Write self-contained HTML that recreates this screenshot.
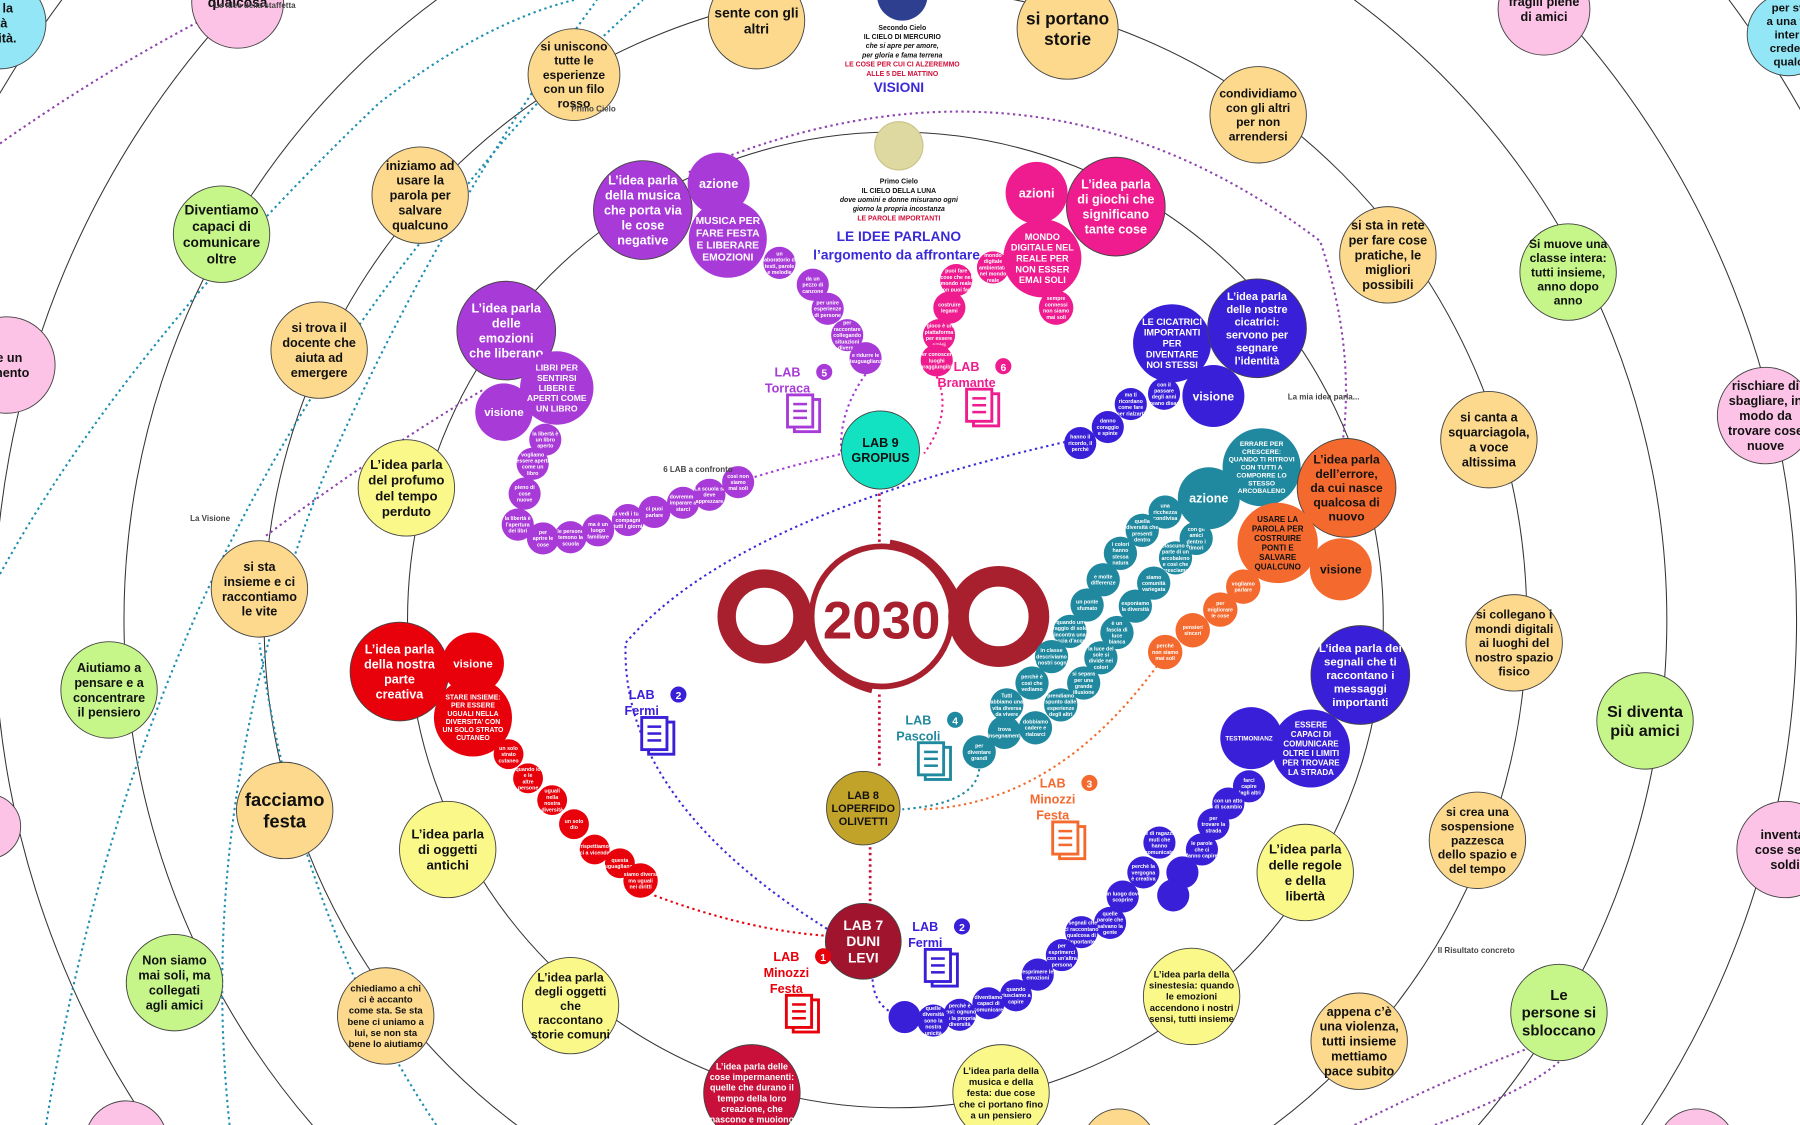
<!DOCTYPE html>
<html><head><meta charset="utf-8">
<style>
html,body{margin:0;padding:0;background:#fff;width:1800px;height:1125px;overflow:hidden}
svg{display:block;overflow:hidden}
text{font-family:"Liberation Sans",sans-serif;font-weight:bold;text-anchor:middle}
</style></head>
<body>
<svg id="s" width="1800" height="1125" viewBox="0 0 1568 980" xmlns="http://www.w3.org/2000/svg">
<g fill="none" stroke="#333" stroke-width="0.9">
<circle cx="780" cy="540" r="425"/>
<circle cx="780" cy="540" r="550"/>
<circle cx="780" cy="540" r="672"/>
<circle cx="780" cy="540" r="785"/>
<circle cx="780" cy="540" r="905"/>
</g>
<g fill="none" stroke-width="1.8" stroke-dasharray="2 3">
<path d="M0 125 Q150 20 300 -40" stroke="#8e44ad"/>
<path d="M0 500 Q110 300 330 90 Q420 20 500 0" stroke="#1e8fb0"/>
<path d="M40 980 Q120 500 400 170 Q470 80 560 0" stroke="#1e8fb0"/>
<path d="M200 980 Q170 700 280 420 Q380 190 520 0" stroke="#1e8fb0"/>
<path d="M380 980 Q260 800 226 560" stroke="#1e8fb0"/>
<path d="M600 150 Q900 20 1150 210 Q1180 300 1170 382" stroke="#8e44ad"/>
<path d="M420 340 Q320 400 230 468" stroke="#8e44ad"/>
<path d="M1180 980 Q1280 930 1355 905" stroke="#8e44ad"/>
<path d="M1250 980 Q1330 950 1358 925" stroke="#8e44ad"/>
<path d="M643 420 Q690 405 735 395" stroke="#a33bd6"/>
<path d="M754 326 Q730 360 733 395" stroke="#a33bd6"/>
<path d="M816 328 Q830 360 805 395" stroke="#ee1c8e"/>
<path d="M928 385 Q640 450 545 560 Q540 700 730 815" stroke="#3a2ad8"/>
<path d="M1008 580 Q920 700 805 705" stroke="#f26a2c"/>
<path d="M853 670 Q850 700 786 705" stroke="#20899f"/>
<path d="M570 780 Q650 810 718 815" stroke="#e8000b"/>
<path d="M788 886 Q760 880 760 850" stroke="#3a2ad8"/>
<path d="M766 430 L766 480 M766 605 L766 670 M758 738 L758 785" stroke="#c8103a" stroke-width="2.4"/>
</g>
<g fill="none" stroke="#a8202e">
<circle cx="666" cy="537" r="33" stroke-width="16"/>
<circle cx="870" cy="537" r="35" stroke-width="18"/>
<circle cx="768" cy="537" r="61" stroke-width="5"/>
<path d="M700 545 Q720 590 760 600 M836 528 Q815 480 775 474" stroke-width="8"/>
</g>
<text x="768" y="556" font-size="46" fill="#a8202e">2030</text>
<circle cx="786" cy="-4" r="22" fill="#2f3f8f"/>
<circle cx="783" cy="127" r="21" fill="#ddd9a0" stroke="#c8c48a"/>
<g id="g"></g>
</svg>
<script>
var g=document.getElementById('g'),NS='http://www.w3.org/2000/svg';
function el(t,a,p){var e=document.createElementNS(NS,t);for(var k in a)e.setAttribute(k,a[k]);(p||g).appendChild(e);return e}
function txt(x,y,s,fs,c){var L=s.split('\n'),lh=fs*1.18,y0=y-(L.length-1)*lh/2+fs*0.35;
 var t=el('text',{x:x,y:y0,'font-size':fs,fill:c});
 L.forEach(function(l,i){var ts=el('tspan',{x:x,y:y0+i*lh},t);ts.textContent=l});}
function N(x,y,r,f,s,fs,c,st){el('circle',{cx:x,cy:y,r:r,fill:f,stroke:st===0?'none':'#444','stroke-width':0.8});if(s)txt(x,y,s,fs,c||'#111')}
var O='#fcd98c',G='#c6f68a',P='#fcc3e6',Y='#fbf88a',C='#93e6f6';
N(0,20,40,C,'re la\nità\nanità.',11);
N(207,2,40,P,'qualcosa',12);
N(659,18,42,O,'sente con gli\naltri',12);
N(930,25,44,O,'si portano\nstorie',15);
N(500,65,40,O,'si uniscono\ntutte le\nesperienze\ncon un filo\nrosso',10.5);
N(1096,100,42,O,'condividiamo\ncon gli altri\nper non\narrendersi',10.5);
N(1345,8,40,P,'fragili piene\ndi amici',11);
N(1558,30,36,C,'per sv\na una fo\ninteri\ncreden\nqualc',10);
N(366,170,42,O,'iniziamo ad\nusare la\nparola per\nsalvare\nqualcuno',11);
N(193,204,42,G,'Diventiamo\ncapaci di\ncomunicare\noltre',12);
N(1209,222,42,O,'si sta in rete\nper fare cose\npratiche, le\nmigliori\npossibili',11);
N(1366,237,42,G,'Si muove una\nclasse intera:\ntutti insieme,\nanno dopo\nanno',10.5);
N(6,318,42,P,'re un\namento',11);
N(278,305,42,O,'si trova il\ndocente che\naiuta ad\nemergere',11);
N(1538,362,42,P,'rischiare di\nsbagliare, in\nmodo da\ntrovare cose\nnuove',11);
N(1297,383,42,O,'si canta a\nsquarciagola,\na voce\naltissima',11);
N(354,425,42,Y,'L\u2019idea parla\ndel profumo\ndel tempo\nperduto',11.5);
N(226,513,42,O,'si sta\ninsieme e ci\nraccontiamo\nle vite',11);
N(1319,560,42,O,'si collegano i\nmondi digitali\nai luoghi del\nnostro spazio\nfisico',10.5);
N(95,601,42,G,'Aiutiamo a\npensare e a\nconcentrare\nil pensiero',11);
N(1433,628,42,G,'Si diventa\npiù amici',14);
N(-10,720,28,P,'',10);
N(248,706,42,O,'facciamo\nfesta',16);
N(390,740,42,Y,'L\u2019idea parla\ndi oggetti\nantichi',11.5);
N(1137,760,42,Y,'L\u2019idea parla\ndelle regole\ne della\nlibertà',11.5);
N(1287,732,42,O,'si crea una\nsospensione\npazzesca\ndello spazio e\ndel tempo',10.5);
N(1555,740,42,P,'inventar\ncose senz\nsoldi',11);
N(152,856,42,G,'Non siamo\nmai soli, ma\ncollegati\nagli amici',11);
N(336,885,42,O,'chiediamo a chi\nci è accanto\ncome sta. Se sta\nbene ci uniamo a\nlui, se non sta\nbene lo aiutiamo',8.2);
N(497,876,42,Y,'L\u2019idea parla\ndegli oggetti\nche\nraccontano\nstorie comuni',10.5);
N(1038,868,42,Y,'L\u2019idea parla della\nsinestesia: quando\nle emozioni\naccendono i nostri\nsensi, tutti insieme',8.2);
N(1184,907,42,O,'appena c\u2019è\nuna violenza,\ntutti insieme\nmettiamo\npace subito',11);
N(1358,882,42,G,'Le\npersone si\nsbloccano',13);
N(655,952,42,'#c8103a','L\u2019idea parla delle\ncose impermanenti:\nquelle che durano il\ntempo della loro\ncreazione, che\nnascono e muoiono',7.8,'#fff');
N(872,952,42,Y,'L\u2019idea parla della\nmusica e della\nfesta:  due cose\nche ci portano fino\na un pensiero',8.2);
N(110,995,36,P,'',10);N(975,998,32,O,'',10);N(1478,1000,34,P,'',10);
function chain(pts,f,r,labels){pts.forEach(function(p,i){N(p[0],p[1],p[2]||r,f,(labels&&labels[i])||'',4.6,'#fff',0)})}
var PU='#a83bd8';
chain([[679,229],[708,248],[721,269],[738,292],[754,312]],PU,14,['un\nlaboratorio di\ntesti, parole\ne melodie','da un\npezzo di\ncanzone','per unire\nesperienze\ndi persone','per\nraccontare\ncollegando\nsituazioni\ndiverse','e ridurre le\ndisuguaglianze']);
chain([[475,383],[464,404],[457,430],[451,457],[473,469],[497,468],[521,462],[547,453],[570,446],[595,438],[618,431],[643,420]],PU,14,['la libertà è\nun libro\naperto','vogliamo\nessere aperti\ncome un\nlibro','pieno di\ncose\nnuove','la libertà è\nl\u2019apertura\ndei libri','per\naprire le\ncose','le persone\ntemono la\nscuola','ma è un\nluogo\nfamiliare','tu vedi i tuoi\ncompagni\ntutti i giorni','ci puoi\nparlare','dovremmo\nimparare a\nstarci','La scuola si\ndeve\napprezzare','così non\nsiamo\nmai soli']);
N(560,183,43,PU,'L\u2019idea parla\ndella musica\nche porta via\nle cose\nnegative',11,'#fff');
N(626,160,27,PU,'azione',11,'#fff',0);
N(634,208,34,PU,'MUSICA PER\nFARE FESTA\nE LIBERARE\nEMOZIONI',9,'#fff',0);
N(441,288,43,PU,'L\u2019idea parla\ndelle\nemozioni\nche liberano',11,'#fff');
N(439,359,25,PU,'visione',10,'#fff',0);
N(485,338,32,PU,'LIBRI PER\nSENTIRSI\nLIBERI E\nAPERTI COME\nUN LIBRO',7.5,'#fff',0);
var PK='#ee1c8e';
chain([[833,244],[827,268],[818,292],[816,314],[865,233],[920,268,15]],PK,14,['puoi fare\ncose che nel\nmondo reale\nnon puoi fare','costruire\nlegami','il gioco è una\npiattaforma\nper essere\namici','per conoscere\nluoghi\ninraggiungibili','mondo\ndigitale\nambientato\nnel mondo\nreale','sempre\nconnessi\nnon siamo\nmai soli']);
N(972,180,43,PK,'L\u2019idea parla\ndi giochi che\nsignificano\ntante cose',11,'#fff');
N(903,168,27,PK,'azioni',11,'#fff',0);
N(908,225,34,PK,'MONDO\nDIGITALE NEL\nREALE PER\nNON ESSER\nEMAI SOLI',8,'#fff',0);
var BL='#3a1fd8';
chain([[1014,343],[985,352],[965,372],[941,386]],BL,14,['con il\npassare\ndegli anni\ncreano disagi','ma ti\nricordano\ncome fare\nper rialzarti','danno\ncoraggio\ne spinte','hanno il\nricordo, il\nperchè']);
N(1021,299,34,BL,'LE CICATRICI\nIMPORTANTI\nPER\nDIVENTARE\nNOI STESSI',8,'#fff',0);
N(1057,345,27,BL,'visione',10.5,'#fff',0);
N(1095,286,43,BL,'L\u2019idea parla\ndelle nostre\ncicatrici:\nservono per\nsegnare\nl\u2019identità',9.5,'#fff');
var TE='#20899f';
chain([[1015,446],[995,462],[976,482],[961,505],[947,527],[932,550],[916,572],[899,595],[877,614],[875,638],[853,655],
[1042,469],[1024,486],[1005,508],[989,528],[973,551],[959,573],[944,595],[924,614],[902,634]],TE,14.5,
['una\nricchezza\ncondivisa','quella\ndiversità che\npresenti\ndentro','i colori\nhanno\nstessa\nnatura','e molte\ndifferenze','un ponte\nsfumato','quando un\nraggio di sole\nincontra una\ngoccia d\u2019acqua','in classe\ndescriviamo\ni nostri sogni','perchè è\ncosì che\nvediamo','Tutti\nabbiamo una\nvita diversa\nda vivere','trova\ninsegnamenti','per\ndiventare\ngrandi',
'con gli\namici\ndentro i\ntimori','ciascuno è\nparte di un\narcobaleno\ne così che\ncresciamo','siamo\ncomunità\nvariegata','esponiamo\nla diversità','è un\nfascia di\nluce\nbianca','la luce del\nsole si\ndivide nei\ncolori','si separa\nper una\ngrande\nillusione','prendiamo\nspunto dalle\nesperienze\ndegli altri','dobbiamo\ncadere e\nrialzarci']);
N(1053,434,27,TE,'azione',11,'#fff',0);
N(1099,407,34,TE,'ERRARE PER\nCRESCERE:\nQUANDO TI RITROVI\nCON TUTTI A\nCOMPORRE LO\nSTESSO\nARCOBALENO',5.8,'#fff',0);
var OR='#f46a2e';
chain([[1083,511],[1063,531],[1039,549],[1015,568]],OR,15,['vogliamo\nparlare','per\nmigliorare\nle cose','pensieri\nsinceri','perchè\nnon siamo\nmai soli']);
N(1173,425,43,OR,'L\u2019idea parla\ndell\u2019errore,\nda cui nasce\nqualcosa di\nnuovo',10.5,'#111');
N(1168,496,27,OR,'visione',10.5,'#111',0);
N(1113,473,35,OR,'USARE LA\nPAROLA PER\nCOSTRUIRE\nPONTI E\nSALVARE\nQUALCUNO',7,'#111',0);
var RE='#e8000b';
chain([[443,657],[460,678],[481,697],[500,718],[518,740],[540,752],[558,767,15]],RE,13,['un solo\nstrato\ncutaneo','quando io\ne le\naltre\npersone','uguali\nnella\nnostra\ndiversità','un solo\ndio','rispettiamo\nci a vicenda','questa\nuguaglianza','siamo diversi\nma uguali\nnei diritti']);
N(348,585,43,RE,'L\u2019idea parla\ndella nostra\nparte\ncreativa',11,'#fff');
N(412,578,27,RE,'visione',10,'#fff',0);
N(412,625,34,RE,'STARE INSIEME:\nPER ESSERE\nUGUALI NELLA\nDIVERSITA\u2019 CON\nUN SOLO STRATO\nCUTANEO',6,'#fff',0);
chain([[1088,685],[1070,700],[1057,718],[1047,740],[1010,734],[996,760],[978,781],[967,804],[942,812],[925,832],[904,849],[885,867],[861,874],[836,884],[813,889],[788,886],[1030,760],[1022,780]],BL,14,
['farci\ncapire\ndagli altri','con un atto\ndi scambio','per\ntrovare la\nstrada','le parole\nche ci\nfanno capire','e di ragazzi\nmuti che\nhanno\ncomunicato','perchè la\nvergogna\nè creativa','un luogo dove\nscoprire','quelle\nparole che\nsalvano la\ngente','i segnali che\nci raccontano\nqualcosa di\nimportante','per\nesprimerci\ncon un\u2019altra\npersona','esprimere le\nemozioni','quando\nriusciamo a\ncapire','diventiamo\ncapaci di\ncomunicare','perchè è\ncosì: ognuno\nha la propria\ndiversità','quelle\ndiversità\nsono la\nnostra\nunicità','','','']);
N(1185,588,43,BL,'L\u2019idea parla dei\nsegnali che ti\nraccontano i\nmessaggi\nimportanti',10,'#fff');
N(1090,643,27,BL,'TESTIMONIANZA',5.5,'#fff',0);
N(1142,652,34,BL,'ESSERE\nCAPACI DI\nCOMUNICARE\nOLTRE I LIMITI\nPER TROVARE\nLA STRADA',7,'#fff',0);
N(767,392,34,'#12e2c2','LAB 9\nGROPIUS',11,'#111');
N(752,704,32,'#c2a32a','LAB 8\nLOPERFIDO\nOLIVETTI',9.5,'#111');
N(752,820,33,'#a0142e','LAB 7\nDUNI\nLEVI',12,'#fff');
function lab(x,y,n,name,c){el('text',{x:x,y:y,'font-size':11,fill:c,'text-anchor':'start'}).textContent='LAB';
 el('circle',{cx:x+32,cy:y-4,r:7,fill:c});el('text',{x:x+32,y:y,'font-size':9,fill:'#fff'}).textContent=n;
 var L=name.split('\n');L.forEach(function(l,i){el('text',{x:x,y:y+14+i*14,'font-size':11,fill:c,'text-anchor':'start'}).textContent=l});
 var dy=y+14*L.length+2;
 el('rect',{x:x+6,y:dy+4,width:22,height:28,fill:'#fff',stroke:c,'stroke-width':2.5});
 el('rect',{x:x,y:dy,width:22,height:28,fill:'#fff',stroke:c,'stroke-width':2.5});
 for(var i=0;i<3;i++)el('line',{x1:x+5,x2:x+17,y1:dy+8+i*6,y2:dy+8+i*6,stroke:c,'stroke-width':2.2});}
lab(686,328,'5','Torraca',PU);
lab(842,323,'6','Bramante',PK);
lab(559,609,'2','Fermi',BL);
lab(800,631,'4','Pascoli',TE);
lab(917,686,'3','Minozzi\nFesta',OR);
lab(806,811,'2','Fermi',BL);
lab(685,837,'1','Minozzi\nFesta',RE);
function T(x,y,s,fs,c,st){var t=el('text',{x:x,y:y,'font-size':fs,fill:c});if(st)t.setAttribute('font-style','italic');t.textContent=s}
T(786,26,'Secondo Cielo',6,'#111');T(786,34,'IL CIELO DI MERCURIO',6,'#111');
T(786,42,'che si apre per amore,',6,'#111',1);T(786,50,'per gloria e fama terrena',6,'#111',1);
T(786,58,'LE COSE PER CUI CI ALZEREMMO',6,'#d0103a');T(786,66,'ALLE 5 DEL MATTINO',6,'#d0103a');
T(783,80,'VISIONI',12,'#3a2ad8');
T(783,160,'Primo Cielo',6,'#111');T(783,168,'IL CIELO DELLA LUNA',6,'#111');
T(783,176,'dove uomini e donne misurano ogni',6,'#111',1);T(783,184,'giorno la propria incostanza',6,'#111',1);
T(783,192,'LE PAROLE IMPORTANTI',6,'#d0103a');
T(783,210,'LE IDEE PARLANO',12,'#3a2ad8');T(781,226,'l\u2019argomento da affrontare',12,'#3a2ad8');
function S(x,y,s){var t=el('text',{x:x,y:y,'font-size':7,fill:'#444','font-weight':'normal'});t.textContent=s}
S(517,97,'Primo Cielo');S(183,454,'La Visione');S(608,411,'6 LAB a confronto');
S(1153,348,'La mia idea parla...');S(1286,830,'Il Risultato concreto');S(222,7,'Le idee della staffetta');
</script>
</body></html>
